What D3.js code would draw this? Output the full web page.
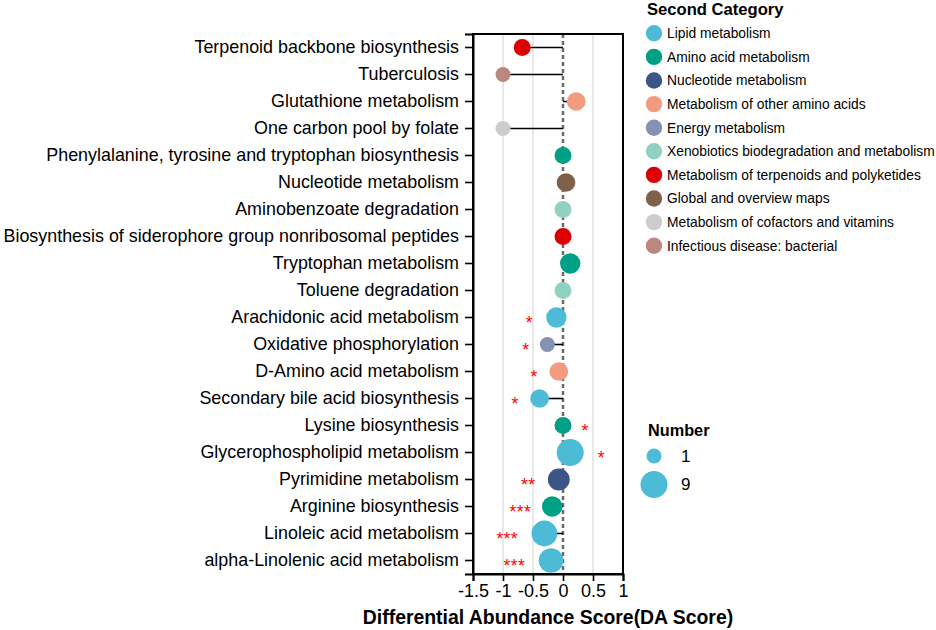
<!DOCTYPE html>
<html>
<head>
<meta charset="utf-8">
<script src="https://cdn.jsdelivr.net/npm/d3@7"></script>
<style>
  body { margin: 0; background: #fff; }
  text { font-family: "Liberation Sans", Arial, sans-serif; }
</style>
</head>
<body>
<div id="chart"></div>
<script>
// pathways, top to bottom
let pathways = [
  "Terpenoid backbone biosynthesis",
  "Tuberculosis",
  "Glutathione metabolism",
  "One carbon pool by folate",
  "Phenylalanine, tyrosine and tryptophan biosynthesis",
  "Nucleotide metabolism",
  "Aminobenzoate degradation",
  "Biosynthesis of siderophore group nonribosomal peptides",
  "Tryptophan metabolism",
  "Toluene degradation",
  "Arachidonic acid metabolism",
  "Oxidative phosphorylation",
  "D-Amino acid metabolism",
  "Secondary bile acid biosynthesis",
  "Lysine biosynthesis",
  "Glycerophospholipid metabolism",
  "Pyrimidine metabolism",
  "Arginine biosynthesis",
  "Linoleic acid metabolism",
  "alpha-Linolenic acid metabolism"
];
let daScore = [-0.68, -1.0, 0.22, -1.0, 0, 0.05, 0, 0, 0.12, 0,
               -0.11, -0.26, -0.07, -0.39, 0, 0.12, -0.07, -0.18, -0.31, -0.2];
let counts  = [2, 1, 3, 1, 2, 3, 2, 2, 4, 2, 4, 1, 3, 3, 2, 9, 5, 4, 8, 7];
let secondCat = [6, 9, 3, 8, 1, 7, 5, 6, 1, 5, 0, 4, 3, 0, 1, 0, 2, 1, 0, 0];
let sigLabel = ["", "", "", "", "", "", "", "", "", "",
                "*", "*", "*", "*", "*", "*", "**", "***", "***", "***"];
let sigPos   = [0, 0, 0, 0, 0, 0, 0, 0, 0, 0,
                -0.56, -0.62, -0.48, -0.8, 0.37, 0.64, -0.58, -0.71, -0.93, -0.81];

let categories = [
  "Lipid metabolism",
  "Amino acid metabolism",
  "Nucleotide metabolism",
  "Metabolism of other amino acids",
  "Energy metabolism",
  "Xenobiotics biodegradation and metabolism",
  "Metabolism of terpenoids and polyketides",
  "Global and overview maps",
  "Metabolism of cofactors and vitamins",
  "Infectious disease: bacterial"
];
let catColors = ["#4DBBD5", "#00A087", "#3C5488", "#F39B7F", "#8491B4",
                 "#91D1C2", "#DC0000", "#7E6148", "#CCCCCC", "#BC877F"];
let xTicks = [-1.5, -1, -0.5, 0, 0.5, 1];
let sizeBreaks = [1, 9];

let W = 936, H = 630;
let plotL = 473, plotT = 34, plotW = 150, plotH = 540;

let svg = d3.select("#chart").append("svg")
  .attr("width", W).attr("height", H);

let x = d3.scaleLinear().domain([-1.5, 1]).range([plotL, plotL + plotW]);
let y = d3.scaleBand().domain(pathways).range([plotT, plotT + plotH]);
let color = d3.scaleOrdinal().domain(categories).range(catColors);
// ggplot-like area scale
let area = d3.scaleLinear().domain([1, 9]).range([7.5 * 7.5, 13.5 * 13.5]);
let rad = n => Math.sqrt(area(n));

let data = pathways.map((p, i) => ({
  name: p, v: daScore[i], n: counts[i], cat: categories[secondCat[i]],
  sig: sigLabel[i], sx: sigPos[i]
}));
let yc = d => y(d.name) + y.bandwidth() / 2;

// grid lines
svg.append("g").selectAll("line")
  .data([-1, -0.5, 0.5])
  .enter().append("line")
    .attr("x1", d => x(d)).attr("x2", d => x(d))
    .attr("y1", plotT).attr("y2", plotT + plotH)
    .attr("stroke", "#d9d9d9").attr("stroke-width", 1.2);

// zero line
svg.append("line")
  .attr("x1", x(0)).attr("x2", x(0))
  .attr("y1", plotT).attr("y2", plotT + plotH)
  .attr("stroke", "#6a6a6a").attr("stroke-width", 2.5)
  .attr("stroke-dasharray", "4,3");

// lollipop sticks
svg.append("g").selectAll("line")
  .data(data.filter(d => d.v != 0))
  .enter().append("line")
    .attr("x1", x(0)).attr("x2", d => x(d.v))
    .attr("y1", yc).attr("y2", yc)
    .attr("stroke", "#000").attr("stroke-width", 1.6);

// points
svg.append("g").selectAll("circle")
  .data(data)
  .enter().append("circle")
    .attr("cx", d => x(d.v)).attr("cy", yc)
    .attr("r", d => rad(d.n))
    .attr("fill", d => color(d.cat));

// significance stars
svg.append("g").selectAll("text")
  .data(data.filter(d => d.sig))
  .enter().append("text")
    .attr("x", d => x(d.sx)).attr("y", d => yc(d) + 11)
    .attr("text-anchor", "middle")
    .attr("fill", "#ff0000")
    .attr("font-size", 17.5)
    .attr("letter-spacing", 0.4)
    .text(d => d.sig);

// frame
svg.append("rect")
  .attr("x", plotL).attr("y", plotT).attr("width", plotW).attr("height", plotH)
  .attr("fill", "none").attr("stroke", "#000").attr("stroke-width", 2);

// y axis
let yAxis = svg.append("g")
  .attr("transform", "translate(" + plotL + ",0)")
  .call(d3.axisLeft(y).tickSize(8).tickPadding(6));
yAxis.select(".domain").attr("stroke-width", 2);
yAxis.selectAll(".tick line").attr("stroke-width", 1.6);
yAxis.selectAll("text").attr("font-size", 17.9).attr("fill", "#000")
  .attr("font-family", "Liberation Sans, Arial, sans-serif");

// x axis
let xAxis = svg.append("g")
  .attr("transform", "translate(0," + (plotT + plotH) + ")")
  .call(d3.axisBottom(x).tickValues(xTicks).tickSize(7).tickPadding(3)
    .tickFormat(d => d3.format("")(d).replace("−", "-")));
xAxis.select(".domain").attr("stroke-width", 2);
xAxis.selectAll(".tick line").attr("stroke-width", 1.6);
xAxis.selectAll("text").attr("font-size", 18).attr("fill", "#000")
  .attr("font-family", "Liberation Sans, Arial, sans-serif");

svg.append("text")
  .attr("x", plotL + plotW / 2).attr("y", 624)
  .attr("text-anchor", "middle")
  .attr("font-size", 19.4).attr("font-weight", "bold")
  .text("Differential Abundance Score(DA Score)");

// legend: second category
let leg = svg.append("g").attr("transform", "translate(643,0)");
leg.append("text").attr("x", 4).attr("y", 15)
  .attr("font-size", 16.6).attr("font-weight", "bold").text("Second Category");
let items = leg.selectAll("g.item")
  .data(categories)
  .enter().append("g")
    .attr("transform", (d, i) => "translate(0," + (33.3 + i * 23.6) + ")");
items.append("circle").attr("cx", 11).attr("cy", 0).attr("r", 8.2)
  .attr("fill", d => color(d));
items.append("text").attr("x", 24).attr("y", 0).attr("dy", "0.35em")
  .attr("font-size", 13.8).text(d => d);

// legend: number
let sleg = svg.append("g").attr("transform", "translate(643,0)");
sleg.append("text").attr("x", 5).attr("y", 436)
  .attr("font-size", 16.3).attr("font-weight", "bold").text("Number");
let sItems = sleg.selectAll("g.s")
  .data(sizeBreaks)
  .enter().append("g")
    .attr("transform", (d, i) => "translate(11," + (456 + i * 28.5) + ")");
sItems.append("circle").attr("r", d => rad(d)).attr("fill", catColors[0]);
sItems.append("text").attr("x", 27).attr("dy", "0.35em")
  .attr("font-size", 17).text(d => d);
</script>
</body>
</html>
